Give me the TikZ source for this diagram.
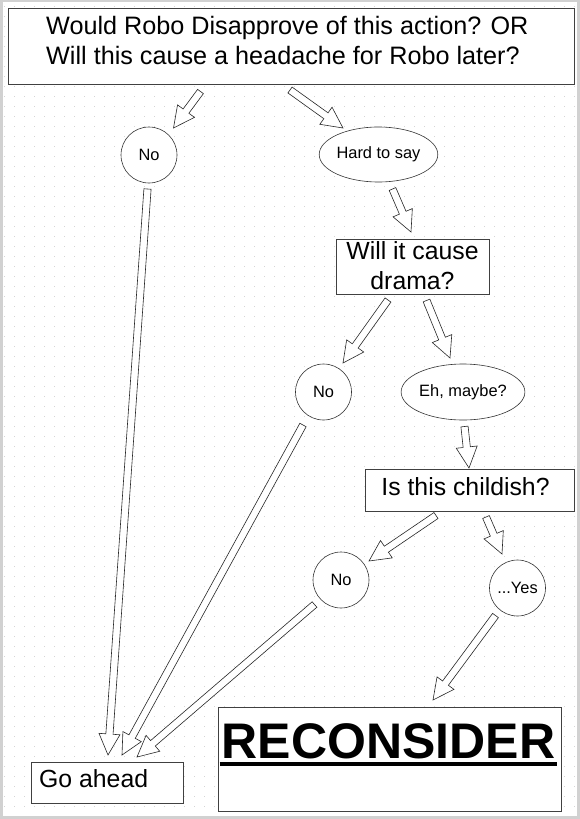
\documentclass[tikz,border=0pt]{standalone}
\usepackage{fontspec}
\setmainfont{Liberation Sans}
\usetikzlibrary{calc,shapes.geometric}
\newcommand\blockarrow[2]{%
  \path (#1) coordinate (ba-s) (#2) coordinate (ba-e);
  \path ($(ba-e)!21pt!(ba-s)$) coordinate (ba-h);
  \filldraw[arrowst] ($(ba-s)!3.6pt!90:(ba-e)$) -- ($(ba-h)!3.6pt!90:(ba-e)$) -- ($(ba-h)!10.5pt!90:(ba-e)$) -- (ba-e)
    -- ($(ba-h)!10.5pt!-90:(ba-e)$) -- ($(ba-h)!3.6pt!-90:(ba-e)$) -- ($(ba-s)!3.6pt!-90:(ba-e)$) -- cycle;
}
\begin{document}
\begin{tikzpicture}[x=1pt,y=-1pt,
  boxst/.style={draw=black!75, line width=0.8pt, fill=white, inner sep=0pt, anchor=north west},
  circst/.style={circle, draw=black!80, line width=0.6pt, fill=white, minimum size=56pt, inner sep=0pt, font=\fontsize{16.4}{18}\selectfont},
  ellst/.style={ellipse, draw=black!80, line width=0.6pt, fill=white, inner sep=0pt, font=\fontsize{16.4}{18}\selectfont},
  bigtxt/.style={font=\fontsize{24.8}{30}\selectfont, inner sep=0pt},
  titletxt/.style={font=\fontsize{25.2}{30}\selectfont, inner sep=0pt},
  arrowst/.style={draw=black!85, fill=white, line width=0.6pt, line join=miter},
]
\useasboundingbox (0,0) rectangle (580,819);
\fill[black!18] (0,0) rectangle (580,819);
\fill[white] (2.5,2) rectangle (577,815.5);
\foreach \yy in {6,16,...,806} \draw[black!17, line width=0.9pt, dash pattern=on 0.9pt off 9.1pt] (4,\yy) -- (576,\yy);

% boxes and nodes
\node[boxst, minimum width=566pt, minimum height=76pt] (q1) at (8,8) {};
\node[titletxt, anchor=base west] (q1a) at (46,34) {Would Robo Disapprove of this action? OR};
\node[titletxt, anchor=base west] (q1b) at (46,64) {Will this cause a headache for Robo later?};

\node[circst] (no1) at (149,155) {No};
\node[ellst, minimum width=105pt, minimum height=55pt] (hard) at (378.5,154.5) {Hard to say};

\node[boxst, minimum width=153pt, minimum height=55pt] (q2) at (336,239) {};
\node[bigtxt, anchor=base] (q2a) at (412.5,259) {Will it cause};
\node[bigtxt, anchor=base] (q2b) at (412.5,289) {drama?};

\node[circst] (no2) at (323.5,392) {No};
\node[ellst, minimum width=108pt, minimum height=56pt] (eh) at (463,392) {Eh, maybe?};

\node[boxst, minimum width=209pt, minimum height=42pt] (q3) at (365,469) {};
\node[bigtxt, anchor=base] (q3a) at (465.5,495) {Is this childish?};

\node[circst] (no3) at (341,580) {No};
\node[circst] (yes) at (517.5,588) {...Yes};

\node[boxst, minimum width=152pt, minimum height=41pt] (go) at (31,762) {};
\node[bigtxt, anchor=base west] (goa) at (39,787) {Go ahead};

\node[boxst, minimum width=343pt, minimum height=104pt] (rec) at (218,707) {};
\node[inner sep=0pt, anchor=base, font=\fontsize{50}{56}\selectfont\bfseries] (reca) at (388.5,758) {RECONSIDER};
\draw[line width=4.5pt] ($(reca.base west)+(-2,6)$) -- ($(reca.base east)+(2,6)$);

% arrow end points
\coordinate (a1s) at (200.5,91.5);  \coordinate (a1e) at (173.5,128);
\coordinate (a2s) at (290,90);      \coordinate (a2e) at (343,128);
\coordinate (a3s) at (392.5,189);   \coordinate (a3e) at (411,232);
\coordinate (a4s) at (388,300);     \coordinate (a4e) at (343,363);
\coordinate (a5s) at (426.5,300.5); \coordinate (a5e) at (450,358);
\coordinate (a6s) at (464.5,426.5); \coordinate (a6e) at (469,468);
\coordinate (a7s) at (436,515.5);   \coordinate (a7e) at (369,561);
\coordinate (a8s) at (486,517);     \coordinate (a8e) at (502,554);
\coordinate (a9s) at (495.5,615.5); \coordinate (a9e) at (433,700);
\coordinate (a10s) at (147.5,189);  \coordinate (a10e) at (108,755);
\coordinate (a11s) at (303,425);    \coordinate (a11e) at (122,755);
\coordinate (a12s) at (314.5,604.5);\coordinate (a12e) at (137,757);

\blockarrow{a1s}{a1e}
\blockarrow{a2s}{a2e}
\blockarrow{a3s}{a3e}
\blockarrow{a4s}{a4e}
\blockarrow{a5s}{a5e}
\blockarrow{a6s}{a6e}
\blockarrow{a7s}{a7e}
\blockarrow{a8s}{a8e}
\blockarrow{a9s}{a9e}
\blockarrow{a10s}{a10e}
\blockarrow{a11s}{a11e}
\blockarrow{a12s}{a12e}
\end{tikzpicture}
\end{document}
